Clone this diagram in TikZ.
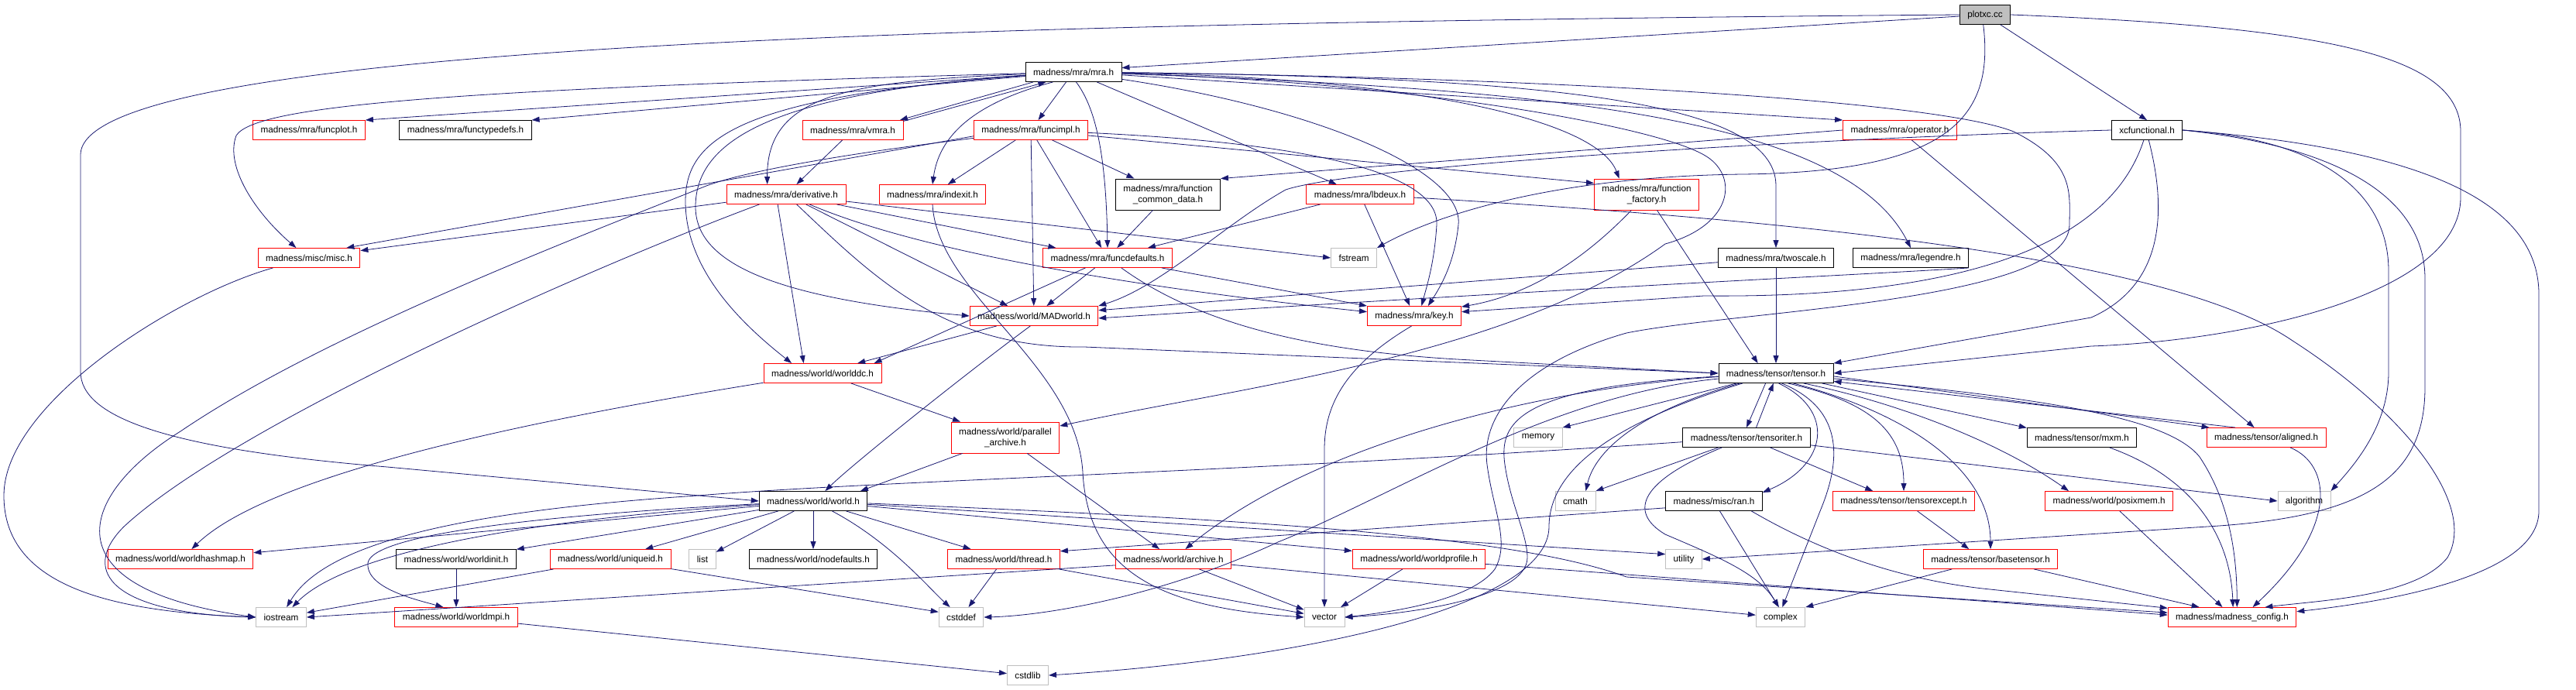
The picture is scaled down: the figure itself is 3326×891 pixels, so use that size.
\documentclass[tikz,border=0pt]{standalone}
\usepackage{fontspec}
\setmainfont{Liberation Sans}
\usetikzlibrary{arrows.meta}
\definecolor{edgeblue}{RGB}{25,25,112}
\definecolor{redline}{RGB}{255,0,0}
\definecolor{grayline}{RGB}{191,191,191}
\definecolor{rootgray}{RGB}{191,191,191}

\begin{document}
\begin{tikzpicture}[x=1pt,y=-1pt]
	\tikzstyle{every node}+=[font=\fontsize{11.7}{14}\selectfont]
	\tikzstyle{hfile}=[rectangle, draw, line width=0.9pt, inner xsep=10pt, inner ysep=1pt, minimum height=25pt, align=center]
	\tikzstyle{redf}=[hfile, draw=redline]
	\tikzstyle{blkf}=[hfile, draw=black]
	\tikzstyle{sysf}=[hfile, draw=grayline]
	\tikzstyle{rootf}=[hfile, draw=black, fill=rootgray]
	\tikzstyle{twol}=[minimum height=40pt]
	\tikzstyle{inc}=[draw=edgeblue, line width=0.8pt, -{Triangle[length=10pt,width=7pt]}]
	\useasboundingbox (0,0) rectangle (3326,891);

	\node[rootf] (plotxc) at (2563,19) {plotxc.cc};
	\node[blkf] (mra) at (1386,93) {madness/mra/mra.h};
	\node[redf] (funcplot) at (399,168) {madness/mra/funcplot.h};
	\node[blkf] (functypedefs) at (601,168) {madness/mra/functypedefs.h};
	\node[redf] (vmra) at (1101,168) {madness/mra/vmra.h};
	\node[redf] (funcimpl) at (1331,168) {madness/mra/funcimpl.h};
	\node[redf] (operator) at (2453,168) {madness/mra/operator.h};
	\node[blkf] (xcfunc) at (2772,168) {xcfunctional.h};
	\node[redf] (deriv) at (1015,251) {madness/mra/derivative.h};
	\node[redf] (indexit) at (1204,251) {madness/mra/indexit.h};
	\node[blkf,twol] (fcd) at (1508,251) {madness/mra/function\\\_common\_data.h};
	\node[redf] (lbdeux) at (1756,251) {madness/mra/lbdeux.h};
	\node[redf,twol] (ffactory) at (2126,251) {madness/mra/function\\\_factory.h};
	\node[redf] (misc) at (399,333) {madness/misc/misc.h};
	\node[redf] (funcdef) at (1430,333) {madness/mra/funcdefaults.h};
	\node[sysf] (fstream) at (1748,333) {fstream};
	\node[blkf] (twoscale) at (2293,333) {madness/mra/twoscale.h};
	\node[blkf] (legendre) at (2467,333) {madness/mra/legendre.h};
	\node[redf] (madworld) at (1335,408) {madness/world/MADworld.h};
	\node[redf] (key) at (1826,408) {madness/mra/key.h};
	\node[redf] (worlddc) at (1062,482) {madness/world/worlddc.h};
	\node[blkf] (tensor) at (2293,482) {madness/tensor/tensor.h};
	\node[redf,twol] (parch) at (1298,565) {madness/world/parallel\\\_archive.h};
	\node[sysf] (memory) at (1986,565) {memory};
	\node[blkf] (tensoriter) at (2255,565) {madness/tensor/tensoriter.h};
	\node[blkf] (mxm) at (2688,565) {madness/tensor/mxm.h};
	\node[redf] (aligned) at (2926,565) {madness/tensor/aligned.h};
	\node[blkf] (world) at (1050,647) {madness/world/world.h};
	\node[sysf] (cmath) at (2034,647) {cmath};
	\node[blkf] (ran) at (2213,647) {madness/misc/ran.h};
	\node[redf] (tensorexcept) at (2458,647) {madness/tensor/tensorexcept.h};
	\node[redf] (posixmem) at (2723,647) {madness/world/posixmem.h};
	\node[sysf] (algorithm) at (2975,647) {algorithm};
	\node[redf] (worldhashmap) at (233,722) {madness/world/worldhashmap.h};
	\node[blkf] (worldinit) at (589,722) {madness/world/worldinit.h};
	\node[redf] (uniqueid) at (788,722) {madness/world/uniqueid.h};
	\node[sysf] (list) at (907,722) {list};
	\node[blkf] (nodefaults) at (1050,722) {madness/world/nodefaults.h};
	\node[redf] (thread) at (1296,722) {madness/world/thread.h};
	\node[redf] (archive) at (1515,722) {madness/world/archive.h};
	\node[redf] (worldprofile) at (1832,722) {madness/world/worldprofile.h};
	\node[sysf] (utility) at (2174,722) {utility};
	\node[redf] (basetensor) at (2570,722) {madness/tensor/basetensor.h};
	\node[sysf] (iostream) at (363,797) {iostream};
	\node[redf] (worldmpi) at (589,797) {madness/world/worldmpi.h};
	\node[sysf] (cstddef) at (1241,797) {cstddef};
	\node[sysf] (vector) at (1710,797) {vector};
	\node[sysf] (complex) at (2299,797) {complex};
	\node[redf] (config) at (2882,797) {madness/madness\_config.h};
	\node[sysf] (cstdlib) at (1327,872) {cstdlib};

	\draw[inc] (plotxc) -- (mra.5);
	\draw[inc] (plotxc.west) .. controls (1200,30) and (104,60) .. (104,200) -- (104,480) .. controls (104,540) and (220,580) .. (500,603) -- (world.west);
	\draw[inc] (plotxc.-100) .. controls (2575,150) and (2520,222) .. (2250,225) .. controls (2000,228) and (1850,280) .. (fstream.north east);
	\draw[inc] (plotxc) -- (xcfunc.north);
	\draw[inc] (plotxc.east) .. controls (3000,35) and (3177,70) .. (3177,170) -- (3177,255) .. controls (3177,380) and (2900,440) .. (2700,447) -- (tensor.east);

	\draw[inc] (mra) -- (funcplot.north east);
	\draw[inc] (mra) -- (functypedefs.north east);
	\draw[inc] (mra) .. controls (600,115) and (330,135) .. (305,175) .. controls (290,215) and (330,275) .. (misc.142);
	\draw[inc] (mra.194) -- (vmra.12);
	\draw[inc] (vmra.10) -- (mra.200);
	\draw[inc] (mra) -- (funcimpl);
	\draw[inc] (mra) .. controls (1100,105) and (990,120) .. (deriv.152);
	\draw[inc] (vmra) -- (deriv);
	\draw[inc] (mra.206) .. controls (1250,135) and (1212,180) .. (indexit.north);
	\draw[inc] (mra.-75) .. controls (1415,140) and (1428,200) .. (funcdef.north);
	\draw[inc] (mra) -- (lbdeux);
	\draw[inc] (mra) .. controls (1800,100) and (2060,150) .. (ffactory.150);
	\draw[inc] (mra) -- (operator.north west);
	\draw[inc] (mra) .. controls (2000,100) and (2293,130) .. (2293,240) -- (twoscale.north);
	\draw[inc] (mra) .. controls (2000,115) and (2380,150) .. (legendre.north);
	\draw[inc] (mra) .. controls (1700,140) and (1890,220) .. (1883,290) .. controls (1878,340) and (1860,370) .. (key.36);
	\draw[inc] (mra) .. controls (1000,120) and (898,180) .. (898,267) .. controls (898,340) and (1000,385) .. (madworld.west);
	\draw[inc] (mra) .. controls (950,125) and (885,180) .. (885,260) .. controls (885,350) and (960,420) .. (worlddc.162);
	\draw[inc] (mra) .. controls (1800,105) and (2130,160) .. (2200,200) .. controls (2245,225) and (2240,290) .. (2150,315) .. controls (1950,460) and (1600,500) .. (parch.12);
	\draw[inc] (mra) .. controls (2000,100) and (2500,130) .. (2600,170) .. controls (2680,210) and (2672,250) .. (2672,290) .. controls (2672,390) and (2250,400) .. (2100,430) .. controls (1960,470) and (1912,540) .. (1920,600) .. controls (1928,660) and (1950,700) .. (1930,735) .. controls (1900,775) and (1800,790) .. (vector.east);

	\draw[inc] (funcimpl) -- (indexit);
	\draw[inc] (funcimpl) -- (funcdef);
	\draw[inc] (funcimpl) -- (fcd);
	\draw[inc] (funcimpl) -- (madworld);
	\draw[inc] (funcimpl) -- (ffactory.168);
	\draw[inc] (funcimpl) .. controls (1700,185) and (1858,225) .. (1855,290) .. controls (1852,340) and (1842,370) .. (key.54);
	\draw[inc] (funcimpl.186) -- (misc.15);
	\draw[inc] (funcimpl.188) .. controls (1080,200) and (960,222) .. (912,240) .. controls (750,305) and (420,430) .. (233,557) .. controls (100,640) and (60,760) .. (iostream.west);

	\draw[inc] (deriv) -- (misc.8);
	\draw[inc] (deriv) .. controls (750,350) and (300,550) .. (160,680) .. controls (100,740) and (150,792) .. (iostream.west);
	\draw[inc] (deriv) -- (funcdef.169);
	\draw[inc] (deriv) -- (fstream.west);
	\draw[inc] (deriv) -- (madworld.159);
	\draw[inc] (deriv) .. controls (1200,330) and (1500,375) .. (key.175);
	\draw[inc] (deriv.-130) -- (worlddc.152);
	\draw[inc] (deriv) .. controls (1130,360) and (1220,450) .. (1400,448) -- (tensor.west);
	\draw[inc] (misc) .. controls (230,380) and (5,520) .. (5,640) .. controls (5,760) and (150,790) .. (iostream.west);
	\draw[inc] (fcd) -- (funcdef);

	\draw[inc] (lbdeux) -- (funcdef.14);
	\draw[inc] (lbdeux) -- (key);
	\draw[inc] (lbdeux) .. controls (2300,283) and (2800,330) .. (2960,440) .. controls (3100,530) and (3200,650) .. (3160,720) .. controls (3120,770) and (3000,775) .. (config.17);
	\draw[inc] (operator.west) -- (fcd.north east);
	\draw[inc] (operator) -- (aligned);
	\draw[inc] (xcfunc.west) .. controls (2300,180) and (1750,215) .. (1660,245) .. controls (1580,290) and (1500,370) .. (madworld.north east);
	\draw[inc] (xcfunc) .. controls (2720,330) and (2500,385) .. (2200,382) -- (key.5);
	\draw[inc] (xcfunc.-80) .. controls (2800,280) and (2790,370) .. (2700,410) -- (tensor.north east);
	\draw[inc] (xcfunc.east) .. controls (3000,180) and (3084,250) .. (3084,350) -- (3084,480) .. controls (3084,550) and (3040,600) .. (algorithm.north east);
	\draw[inc] (xcfunc.east) .. controls (3030,190) and (3131,260) .. (3131,360) -- (3131,500) .. controls (3131,620) and (3050,668) .. (2850,680) -- (utility.east);
	\draw[inc] (xcfunc.east) .. controls (3100,190) and (3278,250) .. (3278,380) -- (3278,660) .. controls (3278,740) and (3100,775) .. (config.5);

	\draw[inc] (ffactory) .. controls (2050,330) and (1980,380) .. (key.11);
	\draw[inc] (ffactory) -- (tensor.151);
	\draw[inc] (twoscale) -- (tensor);
	\draw[inc] (twoscale) -- (madworld.5);
	\draw[inc] (legendre.south east) .. controls (2400,355) and (2100,368) .. (madworld.-2);
	\draw[inc] (funcdef) -- (madworld);
	\draw[inc] (funcdef) -- (worlddc.11);
	\draw[inc] (funcdef) -- (key.north west);
	\draw[inc] (funcdef) .. controls (1550,420) and (1700,455) .. (1900,465) -- (tensor.west);
	\draw[inc] (madworld) -- (worlddc.16);
	\draw[inc] (madworld.-110) .. controls (1250,480) and (1100,600) .. (world.40);
	\draw[inc] (key.-105) .. controls (1740,470) and (1710,520) .. (1710,580) -- (vector.north);
	\draw[inc] (indexit.-90) .. controls (1210,380) and (1390,470) .. (1398,610) .. controls (1405,740) and (1500,785) .. (vector.west);

	\draw[inc] (worlddc) .. controls (700,540) and (350,610) .. (worldhashmap.42);
	\draw[inc] (worlddc) -- (parch);
	\draw[inc] (parch) -- (world.12);
	\draw[inc] (parch) -- (archive);

	\draw[inc] (world) -- (worldinit);
	\draw[inc] (world) -- (uniqueid);
	\draw[inc] (world) -- (list);
	\draw[inc] (world) -- (nodefaults);
	\draw[inc] (world) -- (thread);
	\draw[inc] (world) .. controls (1150,700) and (1200,760) .. (cstddef.138);
	\draw[inc] (world) -- (worldprofile.173);
	\draw[inc] (world) -- (utility.165);
	\draw[inc] (world) .. controls (1600,670) and (1950,690) .. (2100,745) -- (config.176);
	\draw[inc] (world) .. controls (700,670) and (450,710) .. (iostream.42);
	\draw[inc] (world) -- (worldhashmap.5);
	\draw[inc] (world) .. controls (700,665) and (480,690) .. (475,727) .. controls (472,760) and (540,775) .. (worldmpi.142);
	\draw[inc] (worldinit) -- (worldmpi);
	\draw[inc] (uniqueid) -- (iostream.10);
	\draw[inc] (uniqueid) -- (cstddef.167);
	\draw[inc] (worldmpi) -- (cstdlib.175);
	\draw[inc] (thread) -- (cstddef);
	\draw[inc] (thread) -- (vector.170);
	\draw[inc] (archive.186) -- (iostream.east);
	\draw[inc] (archive) -- (vector.160);
	\draw[inc] (archive) -- (complex.175);
	\draw[inc] (worldprofile) -- (vector);
	\draw[inc] (worldprofile) -- (config.178);

	\draw[inc] (tensor) -- (memory.north east);
	\draw[inc] (tensor.-136) -- (tensoriter.north);
	\draw[inc] (tensoriter.46) -- (tensor.-104);
	\draw[inc] (tensor) .. controls (2120,530) and (2060,580) .. (cmath.44);
	\draw[inc] (tensor) .. controls (2100,540) and (2000,600) .. (2000,680) .. controls (2000,780) and (1700,850) .. (cstdlib.east);
	\draw[inc] (tensor.-75) .. controls (2370,530) and (2360,600) .. (ran.10);
	\draw[inc] (tensor.-60) .. controls (2385,530) and (2375,600) .. (2350,660) -- (complex.80);
	\draw[inc] (tensor.-40) .. controls (2420,520) and (2458,560) .. (tensorexcept.north);
	\draw[inc] (tensor.-30) .. controls (2450,530) and (2570,600) .. (basetensor.north);
	\draw[inc] (tensor.-20) .. controls (2450,520) and (2580,570) .. (posixmem.166);
	\draw[inc] (tensor) -- (mxm.170);
	\draw[inc] (tensor.-3) -- (aligned.170);
	\draw[inc] (aligned.162) -- (tensor.-8);
	\draw[inc] (tensor) .. controls (2650,515) and (2800,540) .. (2840,590) .. controls (2880,650) and (2888,720) .. (config.64);
	\draw[inc] (tensor) .. controls (1960,500) and (1935,545) .. (1943,600) .. controls (1950,650) and (1972,690) .. (1972,720) .. controls (1972,770) and (1830,792) .. (vector.east);
	\draw[inc] (tensor) .. controls (2000,510) and (1800,640) .. (1650,700) .. controls (1500,770) and (1350,795) .. (cstddef.east);
	\draw[inc] (tensor) .. controls (2000,500) and (1700,570) .. (archive.40);
	\draw[inc] (tensoriter) -- (cmath.north east);
	\draw[inc] (tensoriter) -- (tensorexcept.162);
	\draw[inc] (tensoriter) .. controls (2120,620) and (2100,660) .. (2150,690) .. controls (2220,720) and (2270,740) .. (complex.100);
	\draw[inc] (tensoriter) .. controls (1600,610) and (1150,620) .. (900,640) .. controls (600,660) and (420,700) .. (iostream.61);
	\draw[inc] (tensoriter) -- (algorithm.west);
	\draw[inc] (ran.-60) -- (complex.100);
	\draw[inc] (ran.-15) .. controls (2330,700) and (2430,745) .. (2560,760) -- (config.172);
	\draw[inc] (ran.188) -- (thread.8);
	\draw[inc] (tensorexcept) -- (basetensor.155);
	\draw[inc] (basetensor) -- (complex.north east);
	\draw[inc] (basetensor) -- (config.163);
	\draw[inc] (posixmem) -- (config.134);
	\draw[inc] (mxm) .. controls (2840,620) and (2880,700) .. (config.85);
	\draw[inc] (aligned) .. controls (3010,600) and (3020,680) .. (config.26);
\end{tikzpicture}
\end{document}
